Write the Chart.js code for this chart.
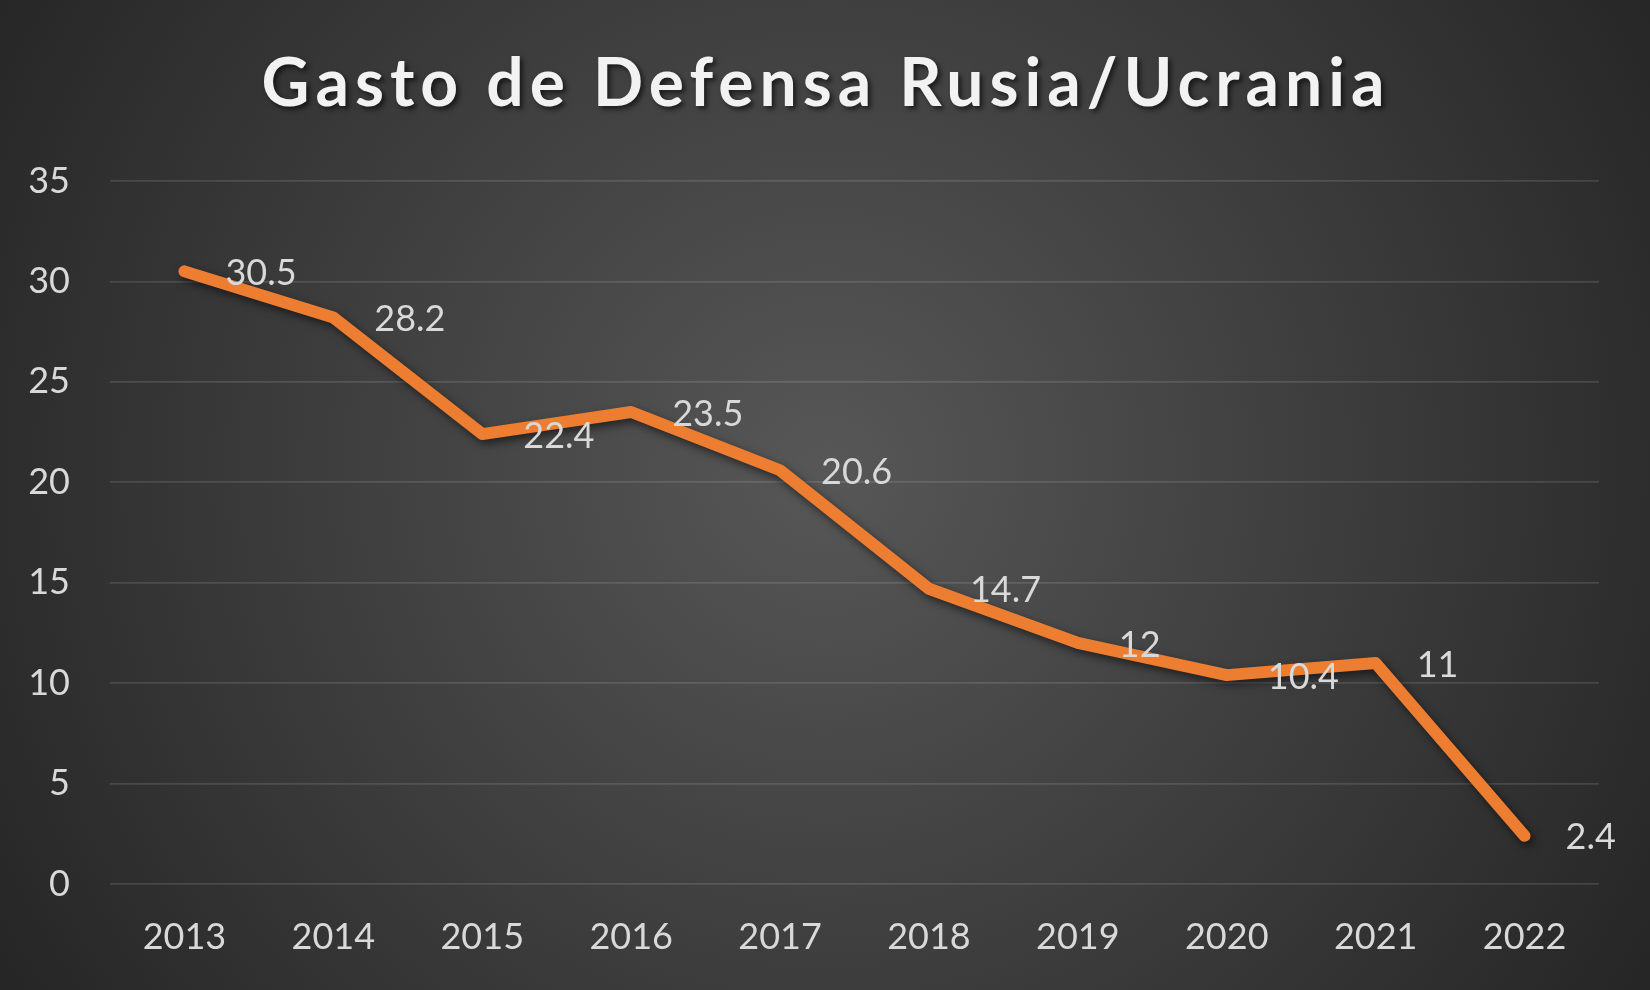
<!DOCTYPE html>
<html>
<head>
<meta charset="utf-8">
<script src="https://cdn.jsdelivr.net/npm/chart.js@4.4.1/dist/chart.umd.min.js"></script>
<style>
  html, body { margin: 0; padding: 0; background: #262626; }
  #wrap { width: 1650px; height: 990px; }
</style>
</head>
<body>
<div id="wrap"><canvas id="gasto" width="1650" height="990"></canvas></div>
<script>
// datos
const years = ['2013', '2014', '2015', '2016', '2017', '2018', '2019', '2020', '2021', '2022'];
const gasto = [30.5, 28.2, 22.4, 23.5, 20.6, 14.7, 12, 10.4, 11, 2.4];
const yMin = 0;
const yMax = 35;
const yStep = 5;
const titleText = 'Gasto de Defensa Rusia/Ucrania';

const textColor = '#d9d9d9';
const baseFont = 'Lato, "Open Sans", sans-serif';

// fondo degradado radial
const background = {
    id: 'background',
    beforeDraw(chart) {
        const ctx = chart.ctx;
        const g = ctx.createRadialGradient(825, 470, 0, 825, 470, 960);
        g.addColorStop(0, '#575757');
        g.addColorStop(1, '#262626');
        ctx.save();
        ctx.fillStyle = g;
        ctx.fillRect(0, 0, chart.width, chart.height);
        ctx.restore();
    }
};

// titulo con sombra y espaciado
const shadowTitle = {
    id: 'shadowTitle',
    afterDraw(chart) {
        const ctx = chart.ctx;
        ctx.save();
        ctx.font = 'bold 66px ' + baseFont;
        ctx.letterSpacing = '6px';
        ctx.textAlign = 'center';
        ctx.textBaseline = 'alphabetic';
        ctx.shadowColor = 'rgba(0,0,0,0.6)';
        ctx.shadowBlur = 5;
        ctx.shadowOffsetX = 3;
        ctx.shadowOffsetY = 3;
        ctx.fillStyle = '#f2f2f2';
        ctx.fillText(titleText, 826, 106);
        ctx.restore();
    }
};

// sombra de la linea
const lineShadow = {
    id: 'lineShadow',
    beforeDatasetsDraw(chart) {
        const ctx = chart.ctx;
        ctx.save();
        ctx.shadowColor = 'rgba(0,0,0,0.55)';
        ctx.shadowBlur = 8;
        ctx.shadowOffsetX = 3;
        ctx.shadowOffsetY = 4;
    },
    afterDatasetsDraw(chart) {
        chart.ctx.restore();
    }
};

// etiquetas de valor a la derecha del punto
const valueLabels = {
    id: 'valueLabels',
    afterDatasetsDraw(chart) {
        const ctx = chart.ctx;
        const meta = chart.getDatasetMeta(0);
        ctx.save();
        ctx.font = '36px ' + baseFont;
        ctx.fillStyle = textColor;
        ctx.textAlign = 'left';
        ctx.textBaseline = 'middle';
        meta.data.forEach(function (pt, i) {
            ctx.fillText(String(gasto[i]), pt.x + 41, pt.y + 2);
        });
        ctx.restore();
    }
};

new Chart(document.getElementById('gasto'), {
    type: 'line',
    data: {
        labels: years,
        datasets: [{
            data: gasto,
            borderColor: '#ED7D31',
            borderWidth: 12,
            borderCapStyle: 'round',
            borderJoinStyle: 'round',
            pointRadius: 0,
            pointHoverRadius: 0,
            tension: 0,
            fill: false
        }]
    },
    options: {
        responsive: false,
        devicePixelRatio: 1,
        animation: false,
        events: [],
        layout: {
            padding: { top: 181, right: 51, left: 0, bottom: 0 }
        },
        scales: {
            x: {
                type: 'category',
                offset: true,
                grid: { display: false },
                border: { display: false },
                ticks: {
                    color: textColor,
                    font: { family: baseFont, size: 36 },
                    padding: 24,
                    maxRotation: 0,
                    autoSkip: false
                },
                afterFit: function (scale) { scale.height = 106; }
            },
            y: {
                min: yMin,
                max: yMax,
                grid: {
                    color: 'rgba(255,255,255,0.12)',
                    lineWidth: 1.75,
                    drawTicks: false
                },
                border: { display: false },
                ticks: {
                    stepSize: yStep,
                    color: textColor,
                    font: { family: baseFont, size: 36 },
                    padding: 40
                },
                afterFit: function (scale) { scale.width = 110; }
            }
        },
        plugins: {
            legend: { display: false },
            title: { display: false },
            tooltip: { enabled: false }
        }
    },
    plugins: [background, lineShadow, valueLabels, shadowTitle]
});
</script>
</body>
</html>
